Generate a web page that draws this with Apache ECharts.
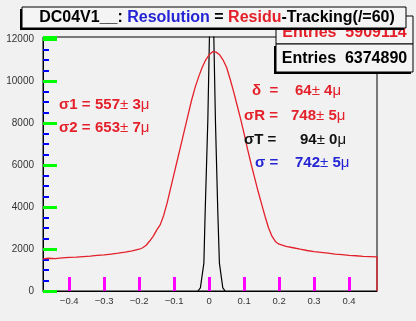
<!DOCTYPE html>
<html>
<head>
<meta charset="utf-8">
<script src="https://cdn.jsdelivr.net/npm/echarts@6/dist/echarts.min.js"></script>
<style>
html, body { margin: 0; padding: 0; background: #f1f1f1; }
#chart { width: 416px; height: 321px; }
</style>
</head>
<body>
<div id="chart"></div>
<script>
// residu histogram (red)
var residuX = [-0.475, -0.46, -0.44, -0.42, -0.40, -0.38, -0.36, -0.34, -0.32, -0.30,
    -0.28, -0.26, -0.24, -0.22, -0.20, -0.19, -0.18, -0.17, -0.16, -0.15,
    -0.14, -0.13, -0.12, -0.11, -0.10, -0.09, -0.08, -0.07, -0.06, -0.05,
    -0.04, -0.03, -0.02, -0.01, 0, 0.01, 0.02, 0.03, 0.04, 0.05,
    0.06, 0.07, 0.08, 0.09, 0.10, 0.11, 0.12, 0.13, 0.14, 0.15,
    0.16, 0.17, 0.18, 0.19, 0.20, 0.22, 0.24, 0.26, 0.28, 0.30,
    0.32, 0.34, 0.36, 0.38, 0.40, 0.42, 0.44, 0.46, 0.48, 0.48];
var residuCounts = [1530, 1560, 1540, 1580, 1600, 1610, 1640, 1660, 1700, 1720,
    1760, 1800, 1850, 1910, 1990, 2060, 2180, 2380, 2600, 2900,
    3150, 3600, 4200, 4900, 5600, 6300, 7000, 7700, 8400, 9100,
    9700, 10200, 10650, 11000, 11250, 11400, 11380, 11250, 11000, 10650,
    10100, 9500, 8850, 8200, 7500, 6750, 6050, 5400, 4750, 4150,
    3550, 3000, 2600, 2350, 2230, 2130, 2060, 1990, 1930, 1880,
    1840, 1800, 1760, 1730, 1700, 1680, 1650, 1640, 1630, 0];

// tracking histogram (black), narrow peak running off the top
var trackX = [-0.032, -0.025, -0.015, -0.0114, -0.0037, 0.0009, 0.007, 0.0134, 0.018, 0.0249, 0.0294, 0.0391, 0.046];
var trackCounts = [0, 150, 1330, 3710, 8140, 12100, 16000, 12100, 8140, 3710, 1330, 150, 0];

var xMajor = [-0.4, -0.3, -0.2, -0.1, 0, 0.1, 0.2, 0.3, 0.4];
var xMinor = [-0.46, -0.44, -0.42, -0.38, -0.36, -0.34, -0.32, -0.28, -0.26, -0.24, -0.22,
    -0.18, -0.16, -0.14, -0.12, -0.08, -0.06, -0.04, -0.02, 0.02, 0.04, 0.06, 0.08,
    0.12, 0.14, 0.16, 0.18, 0.22, 0.24, 0.26, 0.28, 0.32, 0.34, 0.36, 0.38, 0.42, 0.44, 0.46];
var yMajor = [0, 2000, 4000, 6000, 8000, 10000, 12000];
var yMinor = [500, 1000, 1500, 2500, 3000, 3500, 4500, 5000, 5500, 6500, 7000, 7500,
    8500, 9000, 9500, 10500, 11000, 11500];

var titleParts = ['DC04V1__: ', 'Resolution', ' = ', 'Residu', '-Tracking(/=60)'];
var entriesResidu = 'Entries  5909114';
var entriesTrack = 'Entries  6374890';

var RED = '#e4202a', BLUE = '#2424d4', BLK = '#111';
var FONT = '"Liberation Sans", Arial, sans-serif';
var XMIN = -0.475, XMAX = 0.48, YMAX = 12100;

var chart = echarts.init(document.getElementById('chart'));

function pairs(xs, ys) {
    return xs.map(function(x, i) { return [x, ys[i]]; });
}

function fitText(label, value, err, color, x1, x2, y) {
    return [{
        type: 'text', z: 100,
        style: { text: label, x: x1, y: y, fill: color, font: 'bold 15px ' + FONT,
            textVerticalAlign: 'middle', verticalAlign: 'middle' }
    }, {
        type: 'text', z: 100,
        style: {
            text: '{n|' + value + '}{p|±}{n| ' + err + '}{p|μ}',
            x: x2, y: y, textVerticalAlign: 'middle', verticalAlign: 'middle',
            rich: {
                n: { fill: color, fontSize: 15, fontWeight: 'bold', fontFamily: FONT },
                p: { fill: color, fontSize: 15, fontWeight: 'normal', fontFamily: FONT }
            }
        }
    }];
}

var graphics = [
    { type: 'rect', z: 90, shape: { x: 276, y: 16, width: 137, height: 28 },
      style: { fill: '#f4f4f4', stroke: '#000', lineWidth: 1 } },
    { type: 'text', z: 91, style: { text: entriesResidu, x: 344.5, y: 33, fill: RED,
      font: 'bold 16px ' + FONT, textAlign: 'center', align: 'center',
      textVerticalAlign: 'middle', verticalAlign: 'middle' } },
    { type: 'rect', z: 90, shape: { x: 274, y: 46, width: 137, height: 28 }, style: { fill: '#000' } },
    { type: 'rect', z: 91, shape: { x: 276, y: 44, width: 137, height: 28 },
      style: { fill: '#f4f4f4', stroke: '#000', lineWidth: 1 } },
    { type: 'text', z: 92, style: { text: entriesTrack, x: 344.5, y: 58.5, fill: '#000',
      font: 'bold 16px ' + FONT, textAlign: 'center', align: 'center',
      textVerticalAlign: 'middle', verticalAlign: 'middle' } },
    { type: 'rect', z: 95, shape: { x: 20, y: 9, width: 384, height: 21 }, style: { fill: '#000' } },
    { type: 'rect', z: 96, shape: { x: 22, y: 7, width: 384, height: 21 },
      style: { fill: '#f4f4f4', stroke: '#000', lineWidth: 1 } },
    { type: 'text', z: 97, style: {
        text: '{k|' + titleParts[0] + '}{b|' + titleParts[1] + '}{k|' + titleParts[2] + '}{r|' +
            titleParts[3] + '}{k|' + titleParts[4] + '}',
        x: 217, y: 17.5, textAlign: 'center', align: 'center',
        textVerticalAlign: 'middle', verticalAlign: 'middle',
        rich: {
            k: { fill: '#000', fontSize: 16, fontWeight: 'bold', fontFamily: FONT },
            b: { fill: BLUE, fontSize: 16, fontWeight: 'bold', fontFamily: FONT },
            r: { fill: RED, fontSize: 16, fontWeight: 'bold', fontFamily: FONT }
        }
    } }
];

graphics = graphics
    .concat(fitText('σ1 =', '557', '3', RED, 59, 95, 105))
    .concat(fitText('σ2 =', '653', '7', RED, 59, 95, 128))
    .concat(fitText('δ  =', '64', '4', RED, 252, 295, 91))
    .concat(fitText('σR =', '748', '5', RED, 244, 291, 116))
    .concat(fitText('σT =', '94', '0', BLK, 244, 300, 140))
    .concat(fitText('σ =', '742', '5', BLUE, 255, 295, 163));

var black = { color: '#000', width: 1 };

var option = {
    backgroundColor: '#f1f1f1',
    animation: false,
    grid: { left: 43, right: 39, top: 37, bottom: 30, show: true, borderColor: '#000', borderWidth: 1 },
    xAxis: {
        type: 'value', min: XMIN, max: XMAX, position: 'bottom',
        axisLine: { show: true, onZero: false, lineStyle: black },
        axisTick: { show: true, inside: true, length: 14, customValues: xMajor, lineStyle: { color: 'magenta', width: 3 } },
        axisLabel: {
            customValues: xMajor, fontSize: 9.5, color: '#333', margin: 5, fontFamily: FONT,
            formatter: function(v) { return String(Math.round(v * 10) / 10).replace('-', '\u2212'); }
        },
        splitLine: { show: false }
    },
    yAxis: {
        type: 'value', min: 0, max: YMAX, interval: 2000, position: 'left',
        axisLine: { show: true, onZero: false, lineStyle: black },
        axisTick: { show: true, inside: true, length: 14, lineStyle: { color: 'lime', width: 3 } },
        minorTick: { show: true, splitNumber: 4, length: 6, lineStyle: { color: 'blue', width: 2 } },
        axisLabel: {
            fontSize: 10, color: '#333', margin: 9, fontFamily: FONT,
            formatter: function(v) { return v % 2000 === 0 ? String(v) : ''; }
        },
        splitLine: { show: false }
    },
    series: [{
        type: 'line', name: 'tracking',
        data: pairs(trackX, trackCounts),
        showSymbol: false, clip: true,
        lineStyle: { color: '#000', width: 1.2 }
    }, {
        type: 'line', name: 'residu',
        data: pairs(residuX, residuCounts),
        showSymbol: false, clip: true,
        lineStyle: { color: RED, width: 1.3 }
    }],
    graphic: graphics
};

chart.setOption(option);
</script>
</body>
</html>
